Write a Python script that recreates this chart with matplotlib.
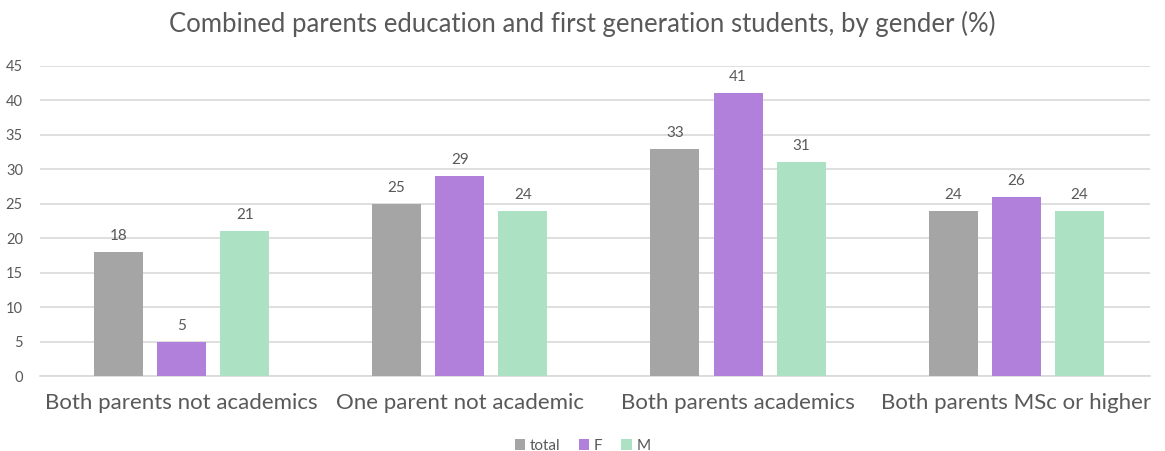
import matplotlib
matplotlib.use('Agg')
import matplotlib.pyplot as plt
import numpy as np

plt.rcParams['font.family'] = ['Lato', 'DejaVu Sans']

categories = ['Both parents not academics', 'One parent not academic',
              'Both parents academics', 'Both parents MSc or higher']
series_names = ['total', 'F', 'M']
total = [18, 25, 33, 24]
female = [5, 29, 41, 26]
male = [21, 24, 31, 24]
yticks = [0, 5, 10, 15, 20, 25, 30, 35, 40, 45]

colors = ['#A5A5A5', '#B180DA', '#ADE1C4']
txt = '#595959'

fig = plt.figure(figsize=(11.65, 4.51), dpi=100)
ax = fig.add_axes([0.034, 0.166, 0.953, 0.688])

x = np.arange(len(categories))
w = 0.176
off = 0.227
for k, (vals, name) in enumerate(zip([total, female, male], series_names)):
    bars = ax.bar(x + (k - 1) * off, vals, w, color=colors[k], label=name, zorder=3)
    for b, v in zip(bars, vals):
        ax.text(b.get_x() + b.get_width() / 2, v + 1.3, str(v), ha='center', va='bottom',
                fontsize=11, color=txt)

ax.set_xlim(-0.51, 3.48)
ax.set_ylim(0, 45)
ax.set_yticks(yticks)
ax.yaxis.grid(True, color='#D9D9D9', linewidth=1.2, zorder=0)
ax.set_xticks(x)
ax.set_xticklabels(categories, fontsize=16, color=txt)
ax.tick_params(axis='y', labelsize=10.5, colors=txt, length=0, pad=12)
ax.tick_params(axis='x', length=0, pad=12)
for s in ['top', 'right', 'left']:
    ax.spines[s].set_visible(False)
ax.spines['bottom'].set_color('#D9D9D9')
ax.spines['bottom'].set_linewidth(1.2)

fig.suptitle('Combined parents education and first generation students, by gender (%)',
             y=0.975, fontsize=18.5, color=txt)
fig.legend(loc='lower center', ncol=3, frameon=False, fontsize=11, labelcolor=txt,
           bbox_to_anchor=(0.5, -0.035), handlelength=0.7, handleheight=0.7,
           handletextpad=0.3, columnspacing=1.2)

fig.savefig('out.png', dpi=100)
